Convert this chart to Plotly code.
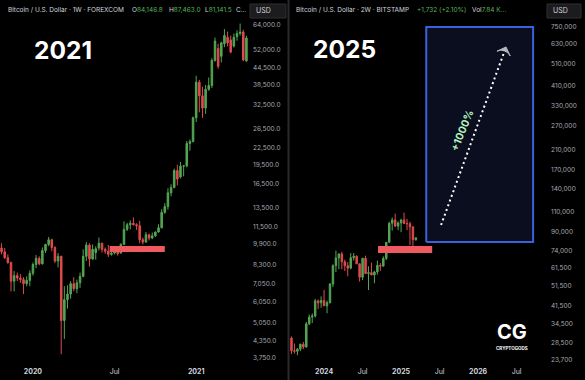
import numpy as np
import pandas as pd
import plotly.graph_objects as go

# ---------------- data: left panel (weekly, 2019-2021) ----------------
left_start = "2019-10-28"
left_open = [9550, 9250, 8800, 8450, 7200, 7550, 7400, 7300, 7050, 7250,
             7700, 8300, 8750, 8350, 9350, 9850, 10250, 9600, 8550, 8900,
             5150, 6150, 6450, 7050, 6750, 7100, 7500, 8900, 9800, 8700,
             9200, 9550, 9950, 9450, 9300, 9050, 9150, 9250, 9150, 9850,
             11200, 11650, 11800, 11650, 11550, 10250, 10050, 10700, 10400, 10600,
             10950, 11350, 12950, 13600, 15300, 16000, 18500, 17500, 19200, 19250,
             23300, 23700, 29000, 39300, 35000, 31500, 37000, 38200, 47300, 52400,
             49000, 54500, 57600, 56300, 53500, 58000, 59500, 60300, 47100]
left_high = [9950, 9550, 9050, 8500, 7850, 7750, 7650, 7450, 7500, 7900,
             8450, 9000, 8900, 9600, 9900, 10500, 10350, 9700, 9150, 8950,
             6900, 6950, 7200, 7450, 7300, 7750, 9450, 10050, 9950, 9850,
             9700, 10450, 10000, 9600, 9800, 9300, 9450, 9300, 9950, 12000,
             11850, 12100, 12400, 11800, 12050, 10450, 10950, 10800, 10900, 11000,
             11700, 13300, 14000, 15900, 16450, 18800, 19450, 19900, 19400, 23800,
             24100, 29300, 41500, 40100, 37800, 38400, 40900, 48200, 57500, 54500,
             55500, 61800, 60500, 58500, 59500, 61200, 64800, 61500, 58400]
left_low = [9050, 8700, 8350, 6600, 6600, 7200, 7100, 6450, 6900, 6900,
            7550, 8050, 8250, 8300, 9150, 9700, 9300, 8400, 8100, 3860,
            4400, 5700, 6200, 6600, 6500, 6800, 7450, 8550, 8150, 8650,
            8650, 9350, 9200, 9100, 8850, 8950, 9050, 8950, 9100, 9800,
            11050, 11200, 11600, 11150, 9950, 9850, 10000, 10200, 10300, 10500,
            10900, 11300, 12800, 13250, 14850, 15900, 16300, 17300, 17600, 19000,
            21900, 23500, 28000, 30400, 29000, 30000, 36500, 37400, 46800, 44100,
            46500, 53000, 53300, 50300, 52800, 56000, 58500, 47000, 46800]
left_close = [9250, 8800, 8450, 7200, 7550, 7400, 7300, 7050, 7250, 7700,
              8300, 8750, 8350, 9350, 9850, 10250, 9600, 8550, 8900, 5150,
              6150, 6450, 7050, 6750, 7100, 7500, 8900, 9800, 8700, 9450,
              9500, 9950, 9450, 9300, 9050, 9150, 9250, 9100, 9850, 11200,
              11650, 11800, 11650, 11550, 10250, 10050, 10700, 10400, 10600, 10950,
              11350, 12950, 13600, 15300, 16000, 18500, 17200, 19200, 19250, 23300,
              23700, 29000, 39300, 35000, 31500, 37000, 38200, 47300, 55800, 45000,
              55000, 58500, 55000, 50800, 57600, 59500, 60300, 47500, 57300]
left_dates = pd.date_range(left_start, periods=len(left_close), freq="7D")

left_ticks = ["2020-01-06", "2020-07-06", "2021-01-04"]
left_ticktext = ["<b>2020</b>", "Jul", "<b>2021</b>"]
left_yticks = [64000, 52000, 44500, 38500, 32500, 26500, 22500, 19500, 16500,
               13500, 11500, 9900, 8300, 7050, 6050, 5050, 4350, 3750]
left_band_dates = ["2020-06-25", "2020-10-26"]
left_band_prices = [9235, 9720]

# ---------------- data: right panel (2-week, 2023-2025) ----------------
right_start = "2023-08-07"
right_open = [29800, 26100, 25950, 26550, 27950, 27150, 34500, 37050, 37450, 43800,
              42900, 43950, 41600, 43000, 52150, 63100, 68400, 71300, 65700, 63100,
              61500, 68500, 69650, 64300, 56000, 68100, 58100, 58700, 57300, 59100,
              63300, 62800, 68000, 80400, 97900, 101400, 95100, 98300, 101300, 97700,
              97500, 94300, 82500]
right_high = [30250, 28150, 26850, 28050, 28600, 35200, 38000, 38450, 44700, 44400,
              45900, 49100, 43900, 52600, 64000, 73800, 71700, 72800, 67200, 65500,
              71900, 71950, 70200, 64500, 68400, 70000, 62700, 65100, 59800, 66500,
              64800, 69500, 73600, 99500, 104000, 108300, 99900, 102700, 109400, 102500,
              99500, 95000, 84500]
right_low = [25200, 25350, 24900, 26000, 26550, 26950, 34100, 34800, 36900, 40200,
             40750, 41500, 38500, 42600, 50600, 59000, 60800, 60700, 59700, 56500,
             60800, 66600, 64100, 53500, 54300, 64000, 49000, 57800, 52550, 57500,
             59800, 62400, 66800, 80200, 90800, 94200, 91300, 89300, 97800, 91200,
             78200, 76600, 81800]
right_close = [26100, 25950, 26550, 27950, 27150, 34500, 37050, 37450, 43800, 42900,
               43950, 41600, 43000, 52150, 63100, 68400, 71300, 65700, 63100, 61500,
               68500, 69650, 64300, 56000, 68100, 58100, 58700, 57300, 59100, 63300,
               62800, 68000, 80400, 97900, 101400, 95100, 98300, 101300, 97700, 97500,
               94300, 82600, 84200]
right_dates = pd.date_range(right_start, periods=len(right_close), freq="14D")

right_ticks = ["2024-01-08", "2024-07-08", "2025-01-06", "2025-07-07", "2026-01-05", "2026-07-06"]
right_ticktext = ["<b>2024</b>", "Jul", "<b>2025</b>", "Jul", "<b>2026</b>", "Jul"]
right_yticks = [750000, 630000, 510000, 410000, 330000, 270000, 210000, 170000, 140000,
                110000, 90000, 74000, 61500, 51500, 41500, 34500, 28500, 23700]
right_band_dates = ["2024-09-19", "2025-06-02"]
right_band_prices = [71950, 77370]
target_box_dates = ["2025-05-05", "2026-09-22"]
target_box_prices = [80640, 750000]
arrow_dates = ["2025-07-14", "2026-05-17"]
arrow_prices = [96200, 609600]
label_date = "2025-10-21"
label_price = 257700

# ---------------- styling ----------------
W, H = 585, 380
GREEN = "#53a653"
RED = "#e04a4e"
BAND = "#ee5a5f"
TXT = "#d1d4dc"
AX = "#a6a9b1"
FONT = "Inter, Roboto, sans-serif"

fig = go.Figure()

fig.add_trace(go.Candlestick(
    x=left_dates, open=left_open, high=left_high, low=left_low, close=left_close,
    xaxis="x", yaxis="y",
    increasing=dict(line=dict(color=GREEN, width=1), fillcolor=GREEN),
    decreasing=dict(line=dict(color=RED, width=1), fillcolor=RED),
    showlegend=False, hoverinfo="skip"))
fig.add_trace(go.Candlestick(
    x=right_dates, open=right_open, high=right_high, low=right_low, close=right_close,
    xaxis="x2", yaxis="y2",
    increasing=dict(line=dict(color=GREEN, width=1), fillcolor=GREEN),
    decreasing=dict(line=dict(color=RED, width=1), fillcolor=RED),
    showlegend=False, hoverinfo="skip"))


def rect(xs, ys, xa, ya, fill, line_color=None, line_width=0):
    x0, x1 = xs
    y0, y1 = ys
    fig.add_trace(go.Scatter(
        x=[x0, x1, x1, x0, x0], y=[y0, y0, y1, y1, y0], mode="lines",
        fill="toself", fillcolor=fill,
        line=dict(color=line_color or fill, width=line_width),
        xaxis=xa, yaxis=ya, showlegend=False, hoverinfo="skip"))


rect(left_band_dates, left_band_prices, "x", "y", BAND)
rect(target_box_dates, target_box_prices, "x2", "y2", "#0a0e1e", "#3a62dc", 2)
rect(right_band_dates, right_band_prices, "x2", "y2", BAND)

fig.add_trace(go.Scatter(
    x=arrow_dates, y=arrow_prices, mode="lines+markers",
    line=dict(color="white", width=2, dash="2px,3px"),
    marker=dict(symbol="arrow-wide", size=[0, 10], angleref="previous", color="white"),
    xaxis="x2", yaxis="y2", showlegend=False, hoverinfo="skip"))

axis_common = dict(showgrid=False, zeroline=False, showline=False, ticks="",
                   automargin=False, fixedrange=True)

fig.update_layout(
    template="none",
    width=W, height=H,
    margin=dict(l=0, r=0, t=0, b=0),
    paper_bgcolor="black", plot_bgcolor="black",
    font=dict(family=FONT, color=TXT),
    showlegend=False,
    xaxis=dict(domain=[0, 250 / W], type="date", range=["2019-10-24 12:00", "2021-05-04"],
               tickvals=left_ticks, ticktext=left_ticktext,
               tickfont=dict(size=7, color=TXT), rangeslider=dict(visible=False),
               anchor="y", **axis_common),
    yaxis=dict(domain=[14 / H, 1], type="log", range=[3.54322, 4.89877], side="right",
               tickvals=left_yticks, ticktext=[f"{v:,.1f}" for v in left_yticks],
               tickfont=dict(size=6.5, color=AX), anchor="x", ticklabelstandoff=2,
               **axis_common),
    xaxis2=dict(domain=[290 / W, 542 / W], type="date", range=["2023-07-31", "2026-11-03"],
                tickvals=right_ticks, ticktext=right_ticktext,
                tickfont=dict(size=7, color=TXT), rangeslider=dict(visible=False),
                anchor="y2", **axis_common),
    yaxis2=dict(domain=[14 / H, 1], type="log", range=[4.34803, 5.99668], side="right",
                tickvals=right_yticks, ticktext=[f"{v:,}" for v in right_yticks],
                tickfont=dict(size=6.5, color=AX), anchor="x2", ticklabelstandoff=8,
                **axis_common),
)

shapes = [
    dict(type="line", xref="paper", yref="paper", x0=288.5 / W, x1=288.5 / W, y0=0, y1=1,
         line=dict(color="#2b2b2b", width=2)),
    dict(type="rect", xref="paper", yref="paper", x0=250 / W, x1=286 / W,
         y0=1 - 18 / H, y1=1 - 4 / H, fillcolor="#1c1c1e", line=dict(color="#2e2e30", width=1)),
    dict(type="rect", xref="paper", yref="paper", x0=547 / W, x1=581 / W,
         y0=1 - 18 / H, y1=1 - 4 / H, fillcolor="#1c1c1e", line=dict(color="#2e2e30", width=1)),
]
fig.update_layout(shapes=shapes)

G = "#56b35a"


def ptext(x, y, text, size=6.5, color=TXT, anchor="left", **kw):
    fig.add_annotation(x=x / W, y=1 - y / H, xref="paper", yref="paper", text=text,
                       showarrow=False, xanchor=anchor, yanchor="middle",
                       font=dict(size=size, color=color, family=kw.pop("family", FONT)), **kw)


ptext(6, 10, "Bitcoin / U.S. Dollar · 1W · FOREXCOM")
ptext(130, 10, f"O<span style='color:{G}'>84,146.8</span>")
ptext(167, 10, f"H<span style='color:{G}'>87,463.0</span>")
ptext(203, 10, f"L<span style='color:{G}'>81,141.5</span>")
ptext(234, 10, "C...")
ptext(254, 11, "USD", size=7)

ptext(294, 10, "Bitcoin / U.S. Dollar · 2W · BITSTAMP")
ptext(415, 10, f"<span style='color:{G}'>+1,732 (+2.10%)</span>")
ptext(470, 10, f"Vol<span style='color:{G}'>7.84 K...</span>")
ptext(551, 11, "USD", size=7)

ptext(63, 50, "<b>2021</b>", size=24.5, color="white", anchor="center")
ptext(344, 49, "<b>2025</b>", size=24.5, color="white", anchor="center")

ptext(512, 332, "<b>CG</b>", size=20, color="white", anchor="center")
ptext(512, 348, "<b>CRYPTOGODS</b>", size=4.5, color="white", anchor="center")

fig.add_annotation(x=label_date, y=np.log10(label_price), xref="x2", yref="y2",
                   text="<b>+1000%</b>", showarrow=False, textangle=-68,
                   font=dict(size=10.5, color="#b6f2bf", family=FONT))

fig.write_html("out.html", config={"displayModeBar": False, "staticPlot": True},
               post_script="document.body.style.margin='0';document.body.style.padding='0';"
                           "document.body.style.overflow='hidden';")
